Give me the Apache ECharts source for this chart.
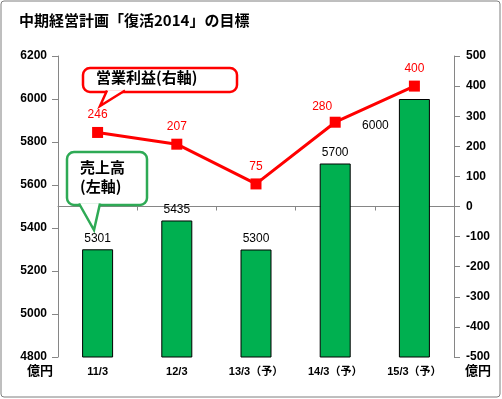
<!DOCTYPE html>
<html>
<head>
<meta charset="utf-8">
<script src="https://cdn.jsdelivr.net/npm/echarts@6/dist/echarts.min.js"></script>
<style>
  html, body { margin: 0; padding: 0; background: #fff; }
  #main { width: 502px; height: 399px; }
</style>
</head>
<body>
<div id="main"></div>
<script>
  // 決算期
  var categories = ['11/3', '12/3', '13/3（予）', '14/3（予）', '15/3（予）']
  // 売上高（左軸, 億円）
  var sales = [5301, 5435, 5300, 5700, 6000]
  // 営業利益（右軸, 億円）
  var profit = [246, 207, 75, 280, 400]

  var jpFont = '"Noto Sans CJK JP", "Liberation Sans", sans-serif'
  var numFont = '"Liberation Sans", "Noto Sans CJK JP", sans-serif'
  var green = '#00B050'
  var red = '#FF0000'
  var calloutGreen = '#2EAA55'
  var axisGray = '#868686'

  var myChart = echarts.init(document.getElementById('main'))

  var salesData = sales.map(function(v, i) {
    if (i === 4) {
      // 6000 のラベルは棒の左側に置かれている
      return { value: v, label: { offset: [-39, 38] } }
    }
    return v
  })
  var profitData = profit.map(function(v, i) {
    if (i === 3) {
      return { value: v, label: { offset: [-13, 2] } }
    }
    return v
  })

  // 吹き出し（角丸の枠 + 三角の尻尾）
  function callout(box, tail, color, z) {
    return [{
      type: 'rect',
      shape: { x: box[0], y: box[1], width: box[2], height: box[3], r: 7 },
      style: { fill: '#fff', stroke: color, lineWidth: 2.5 },
      z: z
    }, {
      type: 'polygon',
      shape: { points: tail },
      style: { fill: '#fff', stroke: 'none' },
      z: z + 1
    }, {
      type: 'polyline',
      shape: { points: tail },
      style: { fill: 'none', stroke: color, lineWidth: 2.5 },
      z: z + 1
    }]
  }

  var graphics = [
    // 外枠
    {
      type: 'rect',
      shape: { x: 1, y: 1, width: 499, height: 396, r: 3 },
      style: { fill: 'none', stroke: '#7F7F7F', lineWidth: 1 },
      silent: true
    }
  ]
  graphics = graphics.concat(callout([83, 68, 154, 24], [[125, 90.5], [100, 106], [107, 90.5]], red, 10))
  graphics = graphics.concat(callout([67, 152, 80, 53], [[100, 203.5], [94, 230], [79, 203.5]], calloutGreen, 10))
  graphics.push({
    type: 'text',
    left: 96,
    top: 70,
    style: {
      text: '営業利益(右軸)',
      fontFamily: jpFont,
      fontSize: 15,
      fontWeight: 'bold',
      fill: '#000'
    },
    z: 20
  }, {
    type: 'text',
    left: 80,
    top: 158,
    style: {
      text: '売上高\n(左軸)',
      fontFamily: jpFont,
      fontSize: 15,
      fontWeight: 'bold',
      lineHeight: 19,
      fill: '#000'
    },
    z: 20
  }, {
    type: 'text',
    left: 27,
    top: 364,
    style: {
      text: '億円',
      fontFamily: jpFont,
      fontSize: 13,
      fontWeight: 'bold',
      fill: '#000'
    }
  }, {
    type: 'text',
    left: 465,
    top: 364,
    style: {
      text: '億円',
      fontFamily: jpFont,
      fontSize: 13,
      fontWeight: 'bold',
      fill: '#000'
    }
  })

  var option = {
    animation: false,
    title: {
      text: '中期経営計画「復活2014」の目標',
      left: 14,
      top: 8,
      textStyle: {
        fontFamily: jpFont,
        fontSize: 15,
        fontWeight: 'bold',
        color: '#000'
      }
    },
    grid: {
      left: 58,
      right: 48,
      top: 56,
      bottom: 42,
      containLabel: false
    },
    xAxis: {
      type: 'category',
      data: categories,
      axisLine: { lineStyle: { color: axisGray, width: 1 } },
      axisTick: { show: true, length: 4, lineStyle: { color: axisGray } },
      axisLabel: {
        margin: 9,
        fontFamily: numFont,
        fontSize: 11,
        fontWeight: 'bold',
        color: '#000'
      }
    },
    yAxis: [{
      type: 'value',
      min: 4800,
      max: 6200,
      interval: 200,
      splitLine: { show: false },
      axisLine: { show: true, lineStyle: { color: axisGray } },
      axisTick: { show: true, length: 6, lineStyle: { color: axisGray } },
      axisLabel: {
        margin: 11,
        fontFamily: numFont,
        fontSize: 12,
        fontWeight: 'bold',
        color: '#000',
        formatter: function(v) { return String(v) }
      }
    }, {
      type: 'value',
      min: -500,
      max: 500,
      interval: 100,
      position: 'right',
      splitLine: { show: false },
      axisLine: { show: true, lineStyle: { color: axisGray } },
      axisTick: { show: true, length: 6, lineStyle: { color: axisGray } },
      axisLabel: {
        margin: 12,
        fontFamily: numFont,
        fontSize: 12,
        fontWeight: 'bold',
        color: '#000',
        formatter: function(v) { return String(v) }
      }
    }],
    series: [{
      name: '売上高',
      type: 'bar',
      yAxisIndex: 0,
      data: salesData,
      barWidth: 31,
      itemStyle: {
        color: green,
        borderColor: '#000',
        borderWidth: 1
      },
      label: {
        show: true,
        position: 'top',
        distance: 5,
        fontFamily: numFont,
        fontSize: 12,
        color: '#000'
      }
    }, {
      name: '営業利益',
      type: 'line',
      yAxisIndex: 1,
      data: profitData,
      symbol: 'rect',
      symbolSize: 11,
      itemStyle: { color: red },
      lineStyle: { color: red, width: 3 },
      label: {
        show: true,
        position: 'top',
        distance: 6,
        fontFamily: numFont,
        fontSize: 12,
        color: red
      },
      z: 5
    }],
    graphic: graphics
  }

  myChart.setOption(option)
</script>
</body>
</html>
